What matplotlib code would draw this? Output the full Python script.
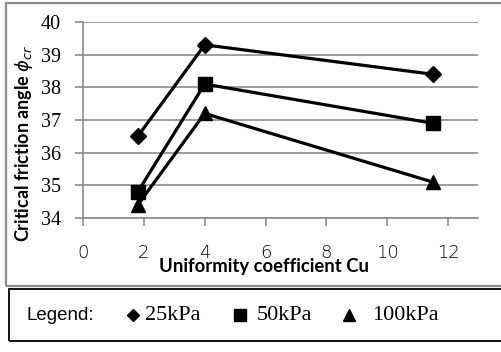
import matplotlib.pyplot as plt
from matplotlib.lines import Line2D
from matplotlib.patches import Rectangle

# uniformity coefficient of the three gradations
cu = [1.8, 4.0, 11.5]
# critical friction angle at each confining pressure
phi_25 = [36.5, 39.3, 38.4]
phi_50 = [34.8, 38.1, 36.9]
phi_100 = [34.4, 37.2, 35.1]

series_labels = ['25kPa', '50kPa', '100kPa']
series_markers = ['D', 's', '^']
x_ticks = [0, 2, 4, 6, 8, 10, 12]
y_ticks = [34, 35, 36, 37, 38, 39, 40]

W, H = 502, 352
fig = plt.figure(figsize=(W / 100, H / 100), dpi=100)

def px(x, y):
    return x / W, 1 - y / H

# chart frame and legend frame
fig.patches.append(Rectangle(px(6, 286), 510 / W, 283 / H, transform=fig.transFigure,
                             fill=False, edgecolor='#8c8c8c', lw=1.6))
fig.patches.append(Rectangle(px(9, 341), 510 / W, 52 / H, transform=fig.transFigure,
                             fill=False, edgecolor='black', lw=1.3))

ax = fig.add_axes([83 / W, (H - 218) / H, (478.5 - 83) / W, (218 - 22) / H])
ms = {'D': 8, 's': 10, '^': 10}
for vals, mk in zip([phi_25, phi_50, phi_100], series_markers):
    ax.plot(cu, vals, color='black', lw=2.3, marker=mk, ms=ms[mk], zorder=3)

ax.set_xlim(0, 13)
ax.set_ylim(34, 40)
ax.set_xticks(x_ticks)
ax.set_yticks(y_ticks)
ax.grid(axis='y', color='#8c8c8c', lw=1.2)
for s in ['top', 'right']:
    ax.spines[s].set_visible(False)
for s in ['left', 'bottom']:
    ax.spines[s].set_color('#8c8c8c')
    ax.spines[s].set_linewidth(1.2)
ax.tick_params(axis='both', direction='out', color='#8c8c8c', width=1.2, length=6)
ax.tick_params(axis='y', pad=10)
ax.tick_params(axis='x', pad=13)
for t in ax.get_yticklabels():
    t.set_fontfamily('Liberation Serif')
    t.set_fontsize(14.5)
for t in ax.get_xticklabels():
    t.set_fontfamily('DejaVu Sans')
    t.set_fontsize(13)
    t.set_fontweight('light')

fig.text(*px(264, 272), 'Uniformity coefficient Cu', ha='center', va='baseline',
         fontfamily='Lato', fontweight='bold', fontsize=13.3)
fig.text(*px(24, 143), r'Critical friction angle $\phi_{cr}$', ha='center', va='center',
         rotation=90, fontfamily='Lato', fontweight='bold', fontsize=13)

# legend row
ly = 315
fig.text(*px(27, ly), 'Legend:', ha='left', va='center', fontfamily='Liberation Sans', fontsize=13.5)
for mx, tx, mk, lab in zip([133, 240, 349], [145, 257, 372], series_markers, series_labels):
    fig.lines.append(Line2D([mx / W], [1 - ly / H], transform=fig.transFigure, marker=mk,
                            ms={'D': 6, 's': 8, '^': 9}[mk], color='black', ls='none'))
    fig.text(*px(tx, ly + 1), lab, ha='left', va='center', fontfamily='Liberation Serif', fontsize=16)

fig.savefig('out.png', dpi=100)
